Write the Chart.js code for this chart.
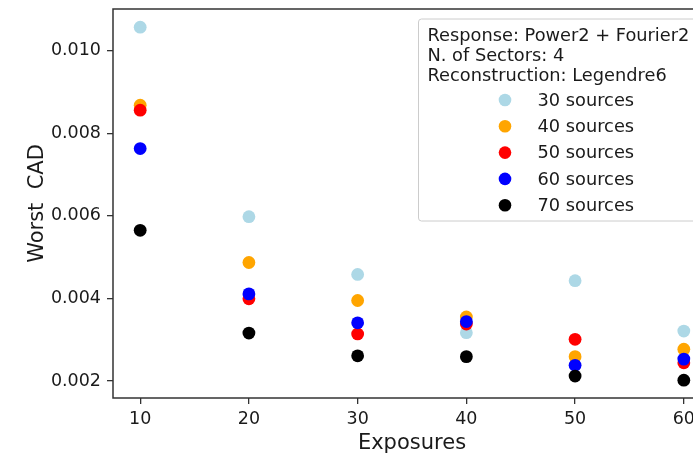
<!DOCTYPE html>
<html>
<head>
<meta charset="utf-8">
<script src="https://cdn.jsdelivr.net/npm/chart.js@4/dist/chart.umd.min.js"></script>
<style>
  html, body { margin: 0; padding: 0; background: #fff; overflow: hidden; }
  #wrap { width: 693px; height: 456px; overflow: hidden; }
</style>
</head>
<body>
<div id="wrap"><canvas id="cad-chart" width="725" height="456"></canvas></div>
<script>
//======================= DATA ============================================//
const exposures = [10, 20, 30, 40, 50, 60];
const xTicks = [10, 20, 30, 40, 50, 60];
const yTicks = [0.002, 0.004, 0.006, 0.008, 0.010];

const sources30 = [0.01057, 0.00598, 0.00458, 0.00317, 0.00443, 0.00321];
const sources40 = [0.00868, 0.00487, 0.00395, 0.00355, 0.00259, 0.00277];
const sources50 = [0.00856, 0.00399, 0.00314, 0.00338, 0.00301, 0.00244];
const sources60 = [0.00763, 0.00411, 0.00341, 0.00344, 0.00238, 0.00253];
const sources70 = [0.00565, 0.00316, 0.00261, 0.00259, 0.00212, 0.00202];

const seriesLabels = ['30 sources', '40 sources', '50 sources', '60 sources', '70 sources'];
const seriesValues = [sources30, sources40, sources50, sources60, sources70];
const seriesColors = ['#add8e6', '#ffa500', '#ff0000', '#0000ff', '#000000'];

const legendTitle = ['Response: Power2 + Fourier2', 'N. of Sectors: 4', 'Reconstruction: Legendre6'];

const FONT = "'DejaVu Sans', sans-serif";
const INK = '#1a1a1a';

//======================= PLUGINS ============================================//
const frame = {
    id: 'frame',
    afterDatasetsDraw(chart){
        const a = chart.chartArea;
        const ctx = chart.ctx;
        ctx.save();
        ctx.strokeStyle = '#333';
        ctx.lineWidth = 1.5;
        ctx.strokeRect(a.left, a.top, a.right - a.left, a.bottom - a.top);
        ctx.restore();
    }
};

const boxLegend = {
    id: 'boxLegend',
    afterDraw(chart){
        const ctx = chart.ctx;
        const a = chart.chartArea;
        const left = a.left + 305.5, top = a.top + 10, bottom = a.top + 212;
        const right = chart.width + 30;
        ctx.save();
        ctx.beginPath();
        ctx.roundRect(left, top, right - left, bottom - top, 3);
        ctx.fillStyle = 'rgba(255,255,255,0.8)';
        ctx.fill();
        ctx.strokeStyle = '#cccccc';
        ctx.lineWidth = 1;
        ctx.stroke();

        ctx.font = '17.8px ' + FONT;
        ctx.fillStyle = INK;
        ctx.textAlign = 'left';
        ctx.textBaseline = 'alphabetic';
        legendTitle.forEach(function(line, i){
            ctx.fillText(line, left + 9, top + 21.5 + i * 20.3);
        });

        ctx.textBaseline = 'middle';
        seriesLabels.forEach(function(label, i){
            const y = top + 81 + i * 26.3;
            ctx.beginPath();
            ctx.arc(left + 86.5, y, 6.3, 0, Math.PI * 2);
            ctx.fillStyle = seriesColors[i];
            ctx.fill();
            ctx.fillStyle = INK;
            ctx.fillText(label, left + 119, y + 1);
        });
        ctx.restore();
    }
};

//======================= CHART ============================================//
const datasets = seriesLabels.map(function(label, i){
    return {
        label: label,
        data: exposures.map(function(x, j){ return { x: x, y: seriesValues[i][j] }; }),
        backgroundColor: seriesColors[i],
        borderWidth: 0,
        pointRadius: 6.4,
        pointHoverRadius: 6.4,
        order: seriesLabels.length - i
    };
});

const ctx = document.getElementById('cad-chart').getContext('2d');
const myChart = new Chart(ctx, {
    type: 'scatter',
    data: { datasets: datasets },
    options: {
        responsive: false,
        animation: false,
        layout: { padding: { top: 9, right: 14, left: 0, bottom: 0 } },
        plugins: {
            legend: { display: false },
            tooltip: { enabled: false }
        },
        scales: {
            x: {
                type: 'linear',
                min: 7.5,
                max: 62.5,
                afterBuildTicks: function(scale){
                    scale.ticks = xTicks.map(function(v){ return { value: v }; });
                },
                afterFit: function(scale){
                    scale.height = 58;
                    scale.paddingLeft = 0;
                    scale.paddingRight = 0;
                },
                border: { display: false },
                grid: { display: true, drawOnChartArea: false, drawTicks: true, tickLength: 6, color: '#333', lineWidth: 1.3 },
                ticks: { color: INK, font: { family: FONT, size: 17.5 }, padding: 5, maxRotation: 0 },
                title: { display: true, text: 'Exposures', color: INK, font: { family: FONT, size: 21, lineHeight: 1 }, padding: { top: 0, bottom: 2 } }
            },
            y: {
                type: 'linear',
                min: 0.001588,
                max: 0.01101,
                afterBuildTicks: function(scale){
                    scale.ticks = yTicks.map(function(v){ return { value: v }; });
                },
                afterFit: function(scale){
                    scale.width = 113;
                    scale.paddingTop = 0;
                    scale.paddingBottom = 0;
                },
                border: { display: false },
                grid: { display: true, drawOnChartArea: false, drawTicks: true, tickLength: 6, color: '#333', lineWidth: 1.3 },
                ticks: {
                    color: INK,
                    font: { family: FONT, size: 17.5 },
                    padding: 6,
                    callback: function(v){ return v.toFixed(3); }
                },
                title: { display: true, text: 'Worst  CAD', color: INK, font: { family: FONT, size: 21, lineHeight: 1 }, padding: { top: 27, bottom: 0 } }
            }
        }
    },
    plugins: [frame, boxLegend]
});
</script>
</body>
</html>
